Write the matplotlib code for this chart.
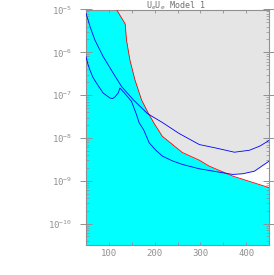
import matplotlib
matplotlib.use('Agg')
import matplotlib.pyplot as plt
import numpy as np

# boundary of the excluded (grey) region, log10 values
red_x = [50, 116.6, 135.7, 138.5, 146.0, 156.9, 171.4, 186.1, 199.2, 216.7, 260.5, 297.7, 319.6, 370.6, 450]
red_y = [-4.9, -5.0, -5.337, -5.71, -6.18, -6.64, -7.11, -7.42, -7.665, -7.96, -8.34, -8.52, -8.66, -8.89, -9.16]

# upper blue curve
upper_x = [50, 59.1, 69.3, 87.5, 109.4, 127.6, 153.2, 184.5, 217.4, 253.9, 297.7, 334.3, 374.4, 407.2, 430, 450]
upper_y = [-5.088, -5.407, -5.710, -6.099, -6.485, -6.797, -7.107, -7.432, -7.642, -7.898, -8.154,
           -8.236, -8.333, -8.287, -8.19, -8.06]

# lower blue curve, left branch (ends in a cusp on the upper curve)
low_left_x = [50, 54, 58.4, 65, 72.8, 87.5, 102.2, 108, 113.1, 120.4, 124.1, 134.0, 149.5]
low_left_y = [-6.099, -6.27, -6.408, -6.58, -6.718, -6.951, -7.067, -7.08, -7.044, -6.951, -6.834, -6.95, -7.146]

# lower blue curve, right branch
low_right_x = [149.5, 160.4, 166.3, 175.8, 188.2, 202.9, 217.4, 240, 261.2, 297.7, 341.5, 370.6,
               392.5, 418.2, 436.3, 450]
low_right_y = [-7.146, -7.456, -7.649, -7.805, -8.115, -8.29, -8.427, -8.54, -8.620, -8.720, -8.799,
               -8.852, -8.836, -8.776, -8.643, -8.543]

y_top, y_bot = -5.0, -10.5

fig = plt.figure(figsize=(2.74, 2.75), dpi=100)
ax = fig.add_axes([86 / 274, 30 / 275, 183 / 274, 235.5 / 275])
ax.set_facecolor('white')

# cyan allowed region below the red boundary
ax.fill_between(red_x, 10 ** y_bot, 10 ** np.array(red_y), color='#00ffff', lw=0, zorder=1)

# grey region above max(red, lower-right branch)
xs = np.union1d(red_x, low_right_x)
r = np.interp(xs, red_x, red_y)
b = np.interp(xs, low_right_x, low_right_y, left=-20, right=-20)
ax.fill_between(xs, 10 ** np.maximum(r, b), 10 ** y_top, color='#e5e5e5', lw=0, zorder=1)

ax.plot(red_x, 10 ** np.array(red_y), color='red', lw=0.6, zorder=3)
ax.plot(upper_x, 10 ** np.array(upper_y), color='blue', lw=0.6, zorder=4)
ax.plot(low_left_x, 10 ** np.array(low_left_y), color='blue', lw=0.6, zorder=4)
ax.plot(low_right_x, 10 ** np.array(low_right_y), color='blue', lw=0.6, zorder=4)

ax.set_yscale('log')
ax.set_xlim(50, 450)
ax.set_ylim(10 ** y_bot, 10 ** y_top)

ax.set_xticks([100, 200, 300, 400])
ax.set_xticks([50, 150, 250, 350, 450], minor=True)
ax.set_yticks([1e-5, 1e-6, 1e-7, 1e-8, 1e-9, 1e-10])

tc = '#909090'
ax.tick_params(axis='x', which='both', direction='in', length=2.5, width=0.6,
               top=True, bottom=True, colors=tc, labelsize=6.5, pad=3)
ax.tick_params(axis='y', which='major', direction='inout', length=8, width=0.7,
               left=True, right=True, colors=tc, labelsize=6.5, pad=6)
ax.tick_params(axis='y', which='minor', direction='in', length=2, width=0.5,
               left=True, right=True, colors=tc)
for lab in ax.get_xticklabels() + ax.get_yticklabels():
    lab.set_family('DejaVu Sans Mono')
for s in ax.spines.values():
    s.set_color('#909090')
    s.set_linewidth(0.8)

fig.text(176 / 274, 1 - 5.5 / 275, 'U$_e$U$_e$ Model 1', fontsize=6, color='#707070',
         family='DejaVu Sans Mono', ha='center', va='center')

fig.savefig('out.png', dpi=100)
